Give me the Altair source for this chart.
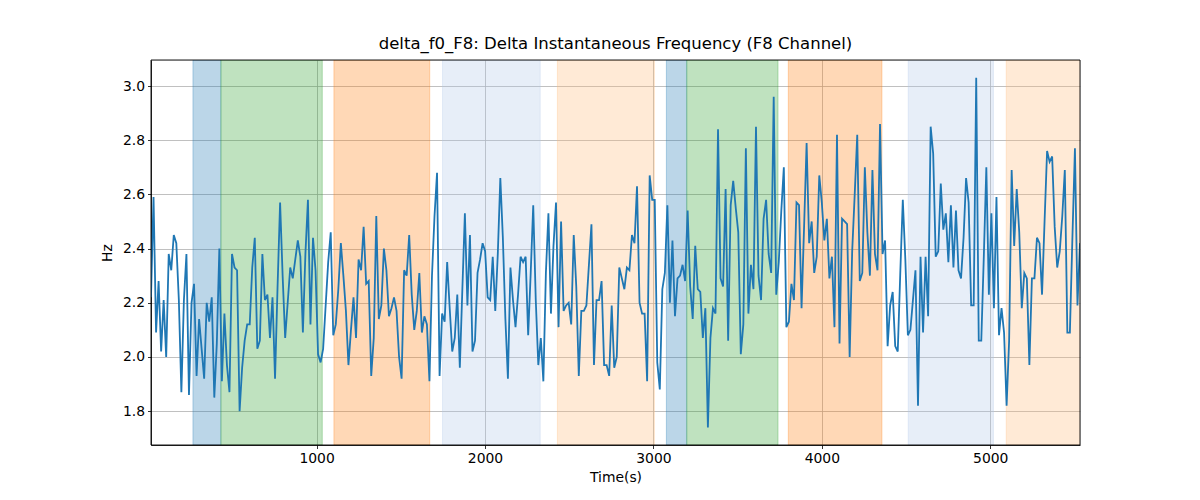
import altair as alt
import pandas as pd

# Values, in six consecutive segments (left to right)
seg1 = [2.22, 2.59, 2.09, 2.28, 2.02, 2.21, 2.00, 2.38, 2.32, 2.45,
        2.42, 2.21, 1.87, 2.21, 2.38, 1.86, 2.20, 2.27, 1.93, 2.14,
        2.03, 1.92, 2.20, 2.13, 2.22, 1.85, 2.05, 2.40, 1.91, 2.16,
        1.97, 1.87, 2.38, 2.33, 2.32, 1.80, 1.96, 2.06, 2.12, 2.12,
        2.33, 2.44, 2.03, 2.06, 2.38, 2.21, 2.23, 2.07, 2.22, 1.92,
        2.26, 2.57, 2.30, 2.07, 2.20, 2.33, 2.29, 2.36, 2.43, 2.37,
        2.09, 2.38, 2.58]
seg2 = [2.12, 2.44, 2.32, 2.01, 1.98, 2.03, 2.19, 2.35, 2.46, 2.08,
        2.12, 2.25, 2.42, 2.30, 2.17, 1.97, 2.10, 2.22, 2.07, 2.36,
        2.32, 2.48, 2.27, 2.28, 1.93, 2.07, 2.52, 2.14, 2.19, 2.40,
        2.32, 2.15, 2.18, 2.22, 2.17, 2.00, 1.92, 2.32, 2.30, 2.45,
        2.23, 2.10, 2.17, 2.31, 2.09, 2.15, 2.12, 1.91, 2.30, 2.52,
        2.68, 1.93, 2.16, 2.13, 2.35, 2.18, 2.02, 2.07, 2.23, 1.96]
seg3 = [2.25, 2.53, 2.19, 2.45, 2.02, 2.06, 2.31, 2.36, 2.42, 2.39,
        2.22, 2.21, 2.37, 2.17, 2.38, 2.66, 2.44, 2.14, 1.92, 2.33,
        2.21, 2.11, 2.23, 2.37, 2.35, 2.37, 2.08, 2.31, 2.56, 2.21,
        1.97, 2.07, 1.91, 2.31, 2.53, 2.16, 2.41, 2.57, 2.11, 2.50,
        2.17, 2.19, 2.20, 2.12, 2.45, 2.26, 1.93, 2.17, 2.17, 2.19,
        2.34, 2.49, 1.97, 2.21, 2.21, 2.28, 1.97, 1.97, 1.93, 2.19,
        1.96, 2.00, 2.33]
seg4 = [2.29, 2.25, 2.33, 2.32, 2.45, 2.42, 2.63, 2.20, 2.16, 2.16,
        1.91, 2.67, 2.58, 2.58, 1.98, 1.88, 2.25, 2.31, 2.56, 2.20,
        2.43, 2.15, 2.29, 2.30, 2.34, 2.28, 2.54, 2.26, 2.14, 2.41,
        2.25, 2.24, 2.07, 2.18, 1.74, 2.07, 2.18, 2.16, 2.84, 2.29,
        2.26, 2.62, 2.06, 2.56, 2.65, 2.55, 2.46, 2.01, 2.12, 2.77,
        2.16, 2.34, 2.25, 2.85, 2.30, 2.21, 2.51, 2.58, 2.38, 2.31,
        2.96]
seg5 = [2.23, 2.35, 2.54, 2.70, 2.11, 2.13, 2.27, 2.21, 2.57, 2.56,
        2.18, 2.48, 2.79, 2.42, 2.50, 2.31, 2.37, 2.67, 2.57, 2.43,
        2.51, 2.29, 2.37, 2.11, 2.82, 2.05, 2.51, 2.50, 2.49, 2.00,
        2.39, 2.60, 2.82, 2.28, 2.31, 2.70, 2.46, 2.30, 2.69, 2.38,
        2.32, 2.86, 2.38, 2.43, 2.04, 2.19, 2.24, 2.04, 2.02, 2.31,
        2.58, 2.36, 2.08, 2.10, 2.21, 2.32, 1.82, 2.37, 2.09, 2.37,
        2.15]
seg6 = [2.85, 2.75, 2.37, 2.39, 2.64, 2.47, 2.53, 2.35, 2.56, 2.33,
        2.54, 2.32, 2.29, 2.44, 2.66, 2.57, 2.19, 2.19, 3.03, 2.06,
        2.06, 2.37, 2.70, 2.23, 2.53, 2.18, 2.59, 2.08, 2.18, 2.09,
        1.82, 2.06, 2.69, 2.41, 2.62, 2.46, 2.18, 2.31, 2.29, 1.97,
        2.29, 2.29, 2.44, 2.42, 2.23, 2.50, 2.76, 2.72, 2.74, 2.48,
        2.33, 2.39, 2.52, 2.69, 2.09, 2.09, 2.44, 2.77, 2.19, 2.42]

values = seg1 + seg2 + seg3 + seg4 + seg5 + seg6
t_start = 17.0
t_step = 15.03
times = [t_start + i * t_step for i in range(len(values))]

span_start = [266, 432, 1103, 1748, 2430, 3077, 3198, 3801, 4513, 5095]
span_end = [432, 1034, 1672, 2328, 3006, 3198, 3740, 4357, 5019, 5560]
span_color = ["#1f77b4", "#2ca02c", "#ff7f0e", "#aec7e8", "#ffbb78",
              "#1f77b4", "#2ca02c", "#ff7f0e", "#aec7e8", "#ffbb78"]

x_ticks = [1000, 2000, 3000, 4000, 5000]
y_ticks = [1.8, 2.0, 2.2, 2.4, 2.6, 2.8, 3.0]

line_df = pd.DataFrame({"t": times, "v": values})
span_df = pd.DataFrame({"start": span_start, "end": span_end, "c": span_color})

FONT = "DejaVu Sans"
W, H = 929, 385
xs = alt.Scale(domain=[times[0], times[-1]], nice=False, zero=False)
ys = alt.Scale(domain=[1.675, 3.096], nice=False, zero=False)

x_axis = alt.Axis(values=x_ticks, format="d", title="Time(s)", grid=True,
                  gridColor="#b0b0b0", gridWidth=0.8, tickColor="black",
                  tickSize=3.5, tickWidth=0.8, labelFontSize=13.9, labelColor="black",
                  labelFont=FONT, titleFont=FONT, titleFontSize=13.9,
                  titleFontWeight="normal", titleColor="black", domainColor="black",
                  domainWidth=0.8, labelPadding=3, titlePadding=5, labelFlush=False)
y_axis = alt.Axis(values=y_ticks, format=".1f", title="Hz", grid=True,
                  gridColor="#b0b0b0", gridWidth=0.8, tickColor="black",
                  tickSize=3.5, tickWidth=0.8, labelFontSize=13.9, labelColor="black",
                  labelFont=FONT, titleFont=FONT, titleFontSize=13.9,
                  titleFontWeight="normal", titleColor="black", domainColor="black",
                  domainWidth=0.8, labelPadding=3, titlePadding=8, labelFlush=False)

spans = alt.Chart(span_df).mark_rect(fillOpacity=0.3, strokeOpacity=0.3,
                                     strokeWidth=1, clip=True).encode(
    x=alt.X("start:Q", scale=xs, axis=x_axis),
    x2="end:Q",
    fill=alt.Fill("c:N", scale=None),
    stroke=alt.Stroke("c:N", scale=None),
)

line = alt.Chart(line_df).mark_line(color="#1f77b4", strokeWidth=1.8, clip=True).encode(
    x=alt.X("t:Q", scale=xs, axis=x_axis),
    y=alt.Y("v:Q", scale=ys, axis=y_axis),
)

frame = alt.Chart(pd.DataFrame({"f": [0]})).mark_rect(
    fillOpacity=0, stroke="black", strokeWidth=0.9).encode(
    x=alt.value(0), x2=alt.value(W), y=alt.value(0), y2=alt.value(H))

chart = alt.layer(spans, line, frame).properties(
    width=W,
    height=H,
    title=alt.Title("delta_f0_F8: Delta Instantaneous Frequency (F8 Channel)",
                    font=FONT, fontSize=16.5, fontWeight="normal", color="black",
                    offset=7),
    autosize=alt.AutoSizeParams(type="none"),
    padding={"left": 143, "top": 52, "right": 112, "bottom": 47},
).configure_view(stroke="black", strokeWidth=0.8).configure(background="white")

chart.save("out.html", embed_options={"renderer": "svg", "actions": False})
